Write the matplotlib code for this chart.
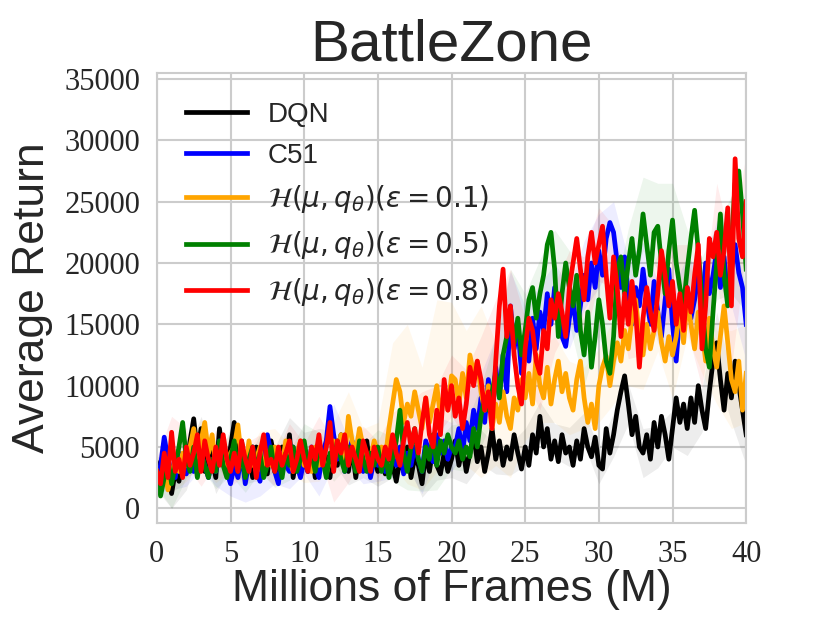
import numpy as np
import matplotlib
matplotlib.use("Agg")
import matplotlib.pyplot as plt

# returns in thousands, one value every 0.25M frames (0 .. 40M)
frames = np.arange(161) * 0.25

dqn = [2.5, 3.8, 2.0, 3.5, 1.2, 3.0, 2.2, 4.0, 3.0, 5.5, 7.3, 4.5, 6.5, 3.0, 5.0, 4.0, 2.5, 6.5, 4.0, 3.5, 5.0,
       7.0, 4.0, 5.5, 3.0, 4.5, 2.5, 5.0, 3.5, 4.8, 2.8, 5.5, 4.0, 3.0, 5.0, 3.5, 6.0, 2.5, 4.5, 3.2, 5.0,
       3.0, 4.5, 2.5, 5.5, 3.8, 4.2, 2.5, 5.0, 3.5, 6.0, 4.0, 3.0, 5.0, 2.5, 4.5, 3.5, 5.5, 3.0, 4.0, 3.0,
       4.5, 2.8, 5.0, 3.5, 2.2, 4.0, 3.0, 5.0, 2.5, 4.2, 3.5, 2.0, 4.5, 3.0, 5.0, 3.5, 2.8, 4.5, 3.0, 4.0,
       5.5, 3.5, 5.0, 3.0, 4.5, 6.0, 3.8, 5.0, 3.0, 4.5, 6.5, 4.0, 5.5, 3.5, 5.0, 4.0, 6.0, 4.5, 3.2, 5.0,
       3.5, 6.0, 4.5, 7.5, 5.0, 6.5, 4.0, 5.5, 3.8, 6.0, 4.5, 5.0, 3.5, 5.5, 4.0, 6.5, 5.0, 4.2, 5.8, 3.5,
       3.2, 6.5, 4.5, 6.0, 8.0, 9.5, 10.8, 8.5, 6.0, 7.5, 5.0, 4.5, 6.0, 4.0, 7.0, 5.0, 7.5, 6.0, 4.0, 6.5,
       9.0, 7.0, 8.5, 6.5, 9.0, 7.0, 10.0, 8.0, 6.5, 9.5, 12.0, 13.5, 10.5, 8.0, 11.0, 9.0, 12.0, 10.0, 8.0, 6.0]

c51 = [2.5, 3.5, 5.8, 4.0, 3.0, 2.5, 4.5, 3.5, 2.8, 4.0, 3.0, 5.0, 4.5, 3.5, 2.5, 4.0, 3.0, 5.5, 4.0, 3.0, 2.0,
       3.5, 2.5, 4.5, 2.0, 3.8, 5.0, 3.0, 2.2, 4.0, 6.0, 4.5, 3.0, 2.0, 4.5, 3.5, 3.0, 5.0, 3.5, 2.5, 4.0,
       3.0, 5.0, 3.5, 2.5, 4.5, 5.5, 8.3, 6.0, 4.0, 5.0, 3.0, 4.5, 5.5, 3.5, 5.0, 3.0, 4.5, 2.5, 4.0, 3.5,
       4.5, 3.0, 5.5, 4.0, 3.5, 5.0, 2.8, 4.5, 3.5, 5.0, 4.0, 3.0, 5.5, 4.5, 3.8, 6.0, 4.5, 5.5, 4.0, 5.0,
       5.0, 6.5, 4.5, 7.0, 5.5, 8.0, 6.5, 9.0, 7.0, 10.5, 8.0, 11.5, 9.0, 12.5, 9.5, 16.5, 13.0, 15.0, 11.0, 14.0,
       12.0, 15.5, 13.0, 16.0, 14.5, 17.5, 15.0, 18.0, 16.0, 14.0, 13.2, 15.5, 17.0, 14.5, 16.5, 19.0, 17.0, 20.0, 18.0, 21.0,
       19.0, 22.0, 23.3, 22.5, 20.0, 18.0, 20.5, 17.5, 15.0, 18.0, 16.5, 19.5, 17.0, 15.0, 18.5, 16.0, 14.0, 17.0, 19.5, 15.0,
       12.0, 16.0, 14.5, 18.0, 15.5, 17.0, 19.0, 16.5, 20.0, 17.5, 19.0, 21.0, 18.0, 20.5, 17.0, 19.5, 21.5, 19.2, 18.0, 15.0]

eps01 = [3.0, 2.0, 3.5, 1.5, 2.8, 4.0, 3.0, 4.5, 3.5, 5.0, 6.5, 4.0, 5.5, 7.0, 4.5, 6.0, 3.5, 5.0, 4.0, 3.0, 4.5,
         5.0, 6.8, 4.0, 3.0, 5.5, 3.5, 4.0, 5.0, 3.0, 4.5, 3.5, 5.0, 4.0, 3.5, 5.5, 4.0, 3.0, 4.5, 5.5, 3.5,
         4.0, 3.0, 5.0, 3.5, 4.5, 2.8, 4.0, 5.5, 4.5, 6.0, 4.0, 7.5, 5.5, 4.5, 6.5, 5.0, 3.5, 4.0, 5.5, 4.5,
         5.0, 4.0, 6.5, 8.5, 10.5, 9.5, 7.0, 8.5, 7.5, 9.5, 8.0, 6.5, 9.0, 7.0, 8.5, 10.0, 7.5, 9.5, 8.0, 10.8,
         10.5, 8.5, 11.0, 9.0, 12.5, 11.0, 12.0, 9.5, 8.0, 10.0, 6.5, 8.5, 7.0, 9.5, 7.5, 6.5, 9.0, 8.0, 10.5, 9.0,
         11.0, 8.5, 12.5, 10.0, 9.0, 11.5, 8.5, 10.5, 12.0, 9.5, 11.0, 9.0, 8.0, 10.5, 12.0, 9.0, 7.0, 8.5, 6.5, 10.0,
         11.5, 12.4, 10.0, 12.0, 13.5, 12.0, 14.5, 13.0, 15.5, 17.0, 14.0, 12.5, 15.0, 13.0, 14.5, 16.0, 13.5, 12.0, 14.0, 12.5,
         14.0, 16.5, 13.5, 17.0, 15.0, 13.0, 16.0, 14.5, 12.0, 15.5, 13.0, 11.5, 14.0, 16.5, 13.5, 10.5, 9.5, 12.0, 8.0, 11.0]

eps05 = [3.0, 1.0, 2.5, 4.0, 2.0, 3.5, 5.0, 7.0, 4.0, 3.0, 5.0, 2.5, 4.5, 3.5, 2.5, 4.0, 3.0, 5.5, 3.5, 2.5, 4.0,
         5.5, 3.0, 4.5, 2.5, 4.0, 5.0, 3.0, 4.5, 2.5, 3.5, 5.0, 3.0, 4.0, 2.5, 4.5, 3.5, 5.0, 3.0, 4.0, 5.5,
         3.5, 4.5, 3.0, 5.0, 4.0, 2.5, 4.5, 3.5, 5.5, 4.0, 3.0, 5.0, 4.5, 3.0, 5.5, 4.0, 3.0, 4.5, 3.5, 5.0,
         3.0, 4.5, 2.5, 4.0, 5.5, 8.0, 4.5, 3.0, 5.0, 6.5, 4.0, 3.0, 5.0, 4.0, 6.0, 3.5, 5.5, 4.5, 6.0, 5.0,
         4.5, 5.5, 4.0, 5.0, 4.2, 6.5, 5.0, 7.5, 9.0, 8.0, 9.5, 11.0, 9.0, 12.5, 14.0, 16.0, 13.5, 15.5, 12.5, 14.5,
         17.0, 18.0, 15.5, 17.5, 19.0, 21.5, 22.5, 19.5, 14.0, 17.5, 20.0, 18.0, 16.5, 19.0, 14.5, 12.5, 16.0, 11.5, 14.0, 17.0,
         15.0, 12.0, 11.0, 14.0, 19.5, 20.5, 17.5, 20.0, 22.0, 19.0, 21.0, 24.0, 21.5, 19.0, 22.5, 23.0, 20.0, 17.5, 21.0, 23.5,
         20.0, 18.0, 16.5, 19.5, 22.0, 24.3, 21.0, 17.0, 13.0, 11.5, 16.0, 20.0, 24.0, 19.0, 16.5, 21.5, 26.5, 27.5, 24.0, 19.5]

eps08 = [3.0, 2.0, 4.5, 2.5, 6.2, 3.0, 4.0, 2.5, 5.0, 3.5, 4.5, 6.0, 3.0, 5.5, 4.0, 3.0, 5.0, 3.5, 6.0, 4.0, 3.0,
         4.5, 3.0, 5.5, 4.0, 3.0, 5.0, 2.5, 4.5, 6.0, 3.5, 4.0, 3.0, 5.0, 3.5, 4.5, 5.5, 3.0, 4.0, 5.5, 4.0,
         3.0, 5.0, 4.0, 6.0, 3.5, 5.0, 7.0, 3.0, 5.5, 4.5, 6.0, 3.5, 5.0, 4.0, 3.0, 5.5, 4.5, 3.0, 5.0, 4.0,
         3.5, 5.0, 4.0, 6.0, 4.5, 3.5, 5.5, 7.0, 5.0, 6.5, 4.5, 7.0, 9.0, 6.0, 5.0, 8.0, 6.0, 10.5, 8.0, 10.0,
         7.5, 9.0, 6.5, 8.5, 11.5, 10.0, 12.0, 10.5, 8.0, 9.5, 6.5, 12.0, 16.5, 19.5, 14.0, 16.5, 12.5, 10.0, 8.5, 13.0,
         15.5, 14.5, 12.0, 11.0, 14.5, 13.0, 17.0, 15.5, 17.5, 16.0, 14.0, 18.0, 20.0, 22.0, 19.5, 17.0, 20.5, 22.5, 20.0, 21.5,
         23.0, 19.0, 15.5, 20.5, 18.0, 14.0, 17.5, 15.0, 18.5, 16.0, 11.5, 15.5, 18.0, 16.0, 14.5, 17.5, 21.0, 19.0, 16.5, 18.5,
         15.0, 17.5, 14.5, 18.0, 16.0, 19.0, 21.5, 13.0, 16.5, 22.0, 20.5, 22.5, 19.0, 21.0, 24.5, 16.5, 28.5, 22.0, 20.5, 25.0]

# std across seeds (thousands), one value per 1M frames
dqn_sd = [1.0, 1.2, 1.5, 1.0, 1.3, 1.5, 1.0, 1.2, 1.0, 1.4, 1.2, 1.0, 1.3, 1.1, 1.0, 1.2, 1.0, 1.3, 1.1, 1.2, 1.5,
          1.0, 1.4, 1.2, 1.3, 1.5, 1.2, 1.4, 1.6, 1.3, 1.5, 1.8, 1.6, 2.0, 1.7, 1.5, 2.2, 1.8, 2.5, 2.0, 2.5]
c51_sd = [1.2, 1.5, 1.0, 1.3, 1.2, 1.0, 1.5, 1.2, 1.0, 1.4, 1.2, 1.5, 2.5, 1.2, 1.0, 1.3, 1.5, 1.2, 1.8, 1.5, 2.0,
          2.2, 2.0, 2.5, 2.8, 2.5, 2.2, 2.0, 2.5, 2.8, 3.0, 2.5, 2.8, 2.2, 2.5, 3.0, 2.5, 2.8, 2.5, 3.0, 3.0]
eps01_sd = [1.2, 1.5, 1.3, 1.8, 1.4, 1.5, 1.2, 1.3, 1.5, 1.2, 1.4, 1.3, 1.5, 2.0, 1.5, 2.5, 5.0, 6.5, 5.0, 7.0, 6.0,
            5.5, 7.0, 5.0, 4.0, 3.5, 3.0, 3.5, 3.0, 2.5, 3.0, 3.5, 3.0, 2.8, 3.2, 3.5, 3.0, 3.5, 3.0, 4.0, 4.0]
eps05_sd = [1.2, 2.0, 1.5, 1.2, 1.4, 1.3, 1.2, 1.5, 1.3, 1.2, 1.4, 1.2, 1.3, 1.5, 1.2, 1.4, 1.8, 1.5, 1.6, 2.0, 1.8,
            2.0, 2.5, 3.0, 3.5, 3.0, 2.8, 3.2, 3.0, 2.5, 3.0, 3.2, 2.8, 3.0, 3.5, 3.0, 3.2, 3.5, 3.0, 4.0, 3.5]
eps08_sd = [1.2, 1.3, 1.5, 1.2, 1.4, 1.2, 1.3, 1.5, 1.2, 1.4, 1.3, 1.5, 2.5, 1.4, 1.2, 1.5, 1.8, 1.6, 2.5, 2.0, 2.5,
            2.8, 3.5, 5.0, 3.0, 2.5, 3.0, 2.8, 3.0, 3.5, 3.0, 2.5, 2.8, 3.0, 3.2, 3.0, 3.5, 3.2, 4.0, 5.0, 4.0]

names = ['DQN', 'C51',
         r'$\mathcal{H}(\mu, q_\theta)(\varepsilon = 0.1)$',
         r'$\mathcal{H}(\mu, q_\theta)(\varepsilon = 0.5)$',
         r'$\mathcal{H}(\mu, q_\theta)(\varepsilon = 0.8)$']
colors = ['black', 'blue', 'orange', 'green', 'red']

dark = '#262626'
fig = plt.figure(figsize=(8.3, 6.23), dpi=100)
ax = fig.add_axes([0.189, 0.1605, 0.710, 0.7225])

series = [(dqn, dqn_sd), (c51, c51_sd), (eps01, eps01_sd), (eps05, eps05_sd), (eps08, eps08_sd)]
for (mean, sd), name, c in zip(series, names, colors):
    m = np.array(mean) * 1000
    s = np.array(sd) * 1000
    ax.fill_between(frames[::4], m[::4] - s, m[::4] + s, color=c, alpha=0.07, lw=0)
    ax.plot(frames, m, color=c, lw=3.4, label=name)

ax.set_xlim(0, 40)
ax.set_ylim(-1200, 35500)
ax.set_xticks(np.arange(0, 41, 5))
ax.set_yticks(np.arange(0, 35001, 5000))
ax.grid(True, color='#cccccc', lw=1.5)
ax.set_axisbelow(True)
for sp in ax.spines.values():
    sp.set_color('#cccccc')
    sp.set_linewidth(1.5)
ax.tick_params(length=0, pad=12, labelsize=22, labelcolor=dark)
for lab in ax.get_xticklabels() + ax.get_yticklabels():
    lab.set_fontfamily('Liberation Serif')

ax.set_title('BattleZone', fontsize=42, color=dark, family='Liberation Sans', pad=8)
ax.set_xlabel('Millions of Frames (M)', fontsize=32, color=dark, family='Liberation Sans', labelpad=0)
ax.set_ylabel('Average Return', fontsize=32, color=dark, family='Liberation Sans', labelpad=8)

leg = ax.legend(loc='upper left', frameon=False, fontsize=20, handlelength=2.2,
                labelspacing=0.52, borderaxespad=0.65, handletextpad=0.75)
for t in leg.get_texts():
    t.set_color(dark)
    t.set_family('Liberation Sans')

fig.savefig('out.png', dpi=100)
